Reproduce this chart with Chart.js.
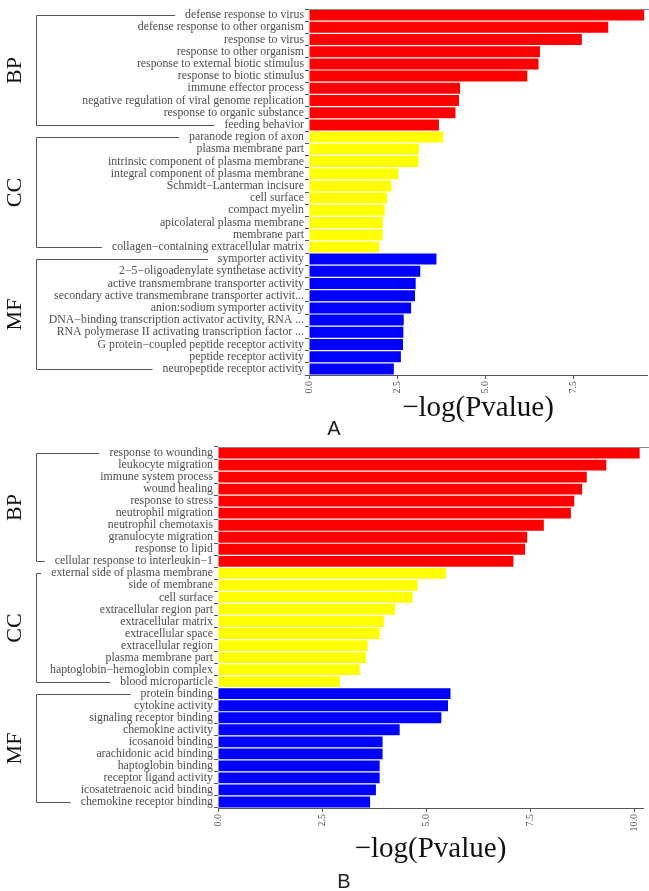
<!DOCTYPE html>
<html>
<head>
<meta charset="utf-8">
<script src="https://cdn.jsdelivr.net/npm/chart.js@4.4.1/dist/chart.umd.min.js"></script>
<style>
  html, body { margin: 0; padding: 0; background: #fff; }
  body { width: 649px; height: 891px; position: relative; overflow: hidden; }
  .panel { position: absolute; left: 0; width: 649px; }
  #panelA { top: 0; height: 440px; }
  #panelB { top: 440px; height: 451px; }
  .tag { position: absolute; font-family: "Liberation Sans", Arial, sans-serif; font-size: 20px; color: #222; transform: translate(-50%, -50%); }
</style>
</head>
<body>
<div class="panel" id="panelA"><canvas id="chartA"></canvas></div>
<div class="panel" id="panelB"><canvas id="chartB"></canvas></div>
<div class="tag" style="left:334px; top:428px">A</div>
<div class="tag" style="left:344px; top:881px">B</div>
<script>
// GO categories, 10 terms each, in plotting order (top to bottom)
const groups = ['BP', 'CC', 'MF'];
const groupCounts = [10, 10, 10];
const groupColors = ['#FF0000', '#FFFF00', '#0000FF'];

const termsA = [
  'defense response to virus', 'defense response to other organism', 'response to virus',
  'response to other organism', 'response to external biotic stimulus', 'response to biotic stimulus',
  'immune effector process', 'negative regulation of viral genome replication', 'response to organic substance',
  'feeding behavior',
  'paranode region of axon', 'plasma membrane part', 'intrinsic component of plasma membrane',
  'integral component of plasma membrane', 'Schmidt\u2212Lanterman incisure', 'cell surface',
  'compact myelin', 'apicolateral plasma membrane', 'membrane part',
  'collagen\u2212containing extracellular matrix',
  'symporter activity', '2\u22125\u2212oligoadenylate synthetase activity', 'active transmembrane transporter activity',
  'secondary active transmembrane transporter activit...', 'anion:sodium symporter activity',
  'DNA\u2212binding transcription activator activity, RNA ...', 'RNA polymerase II activating transcription factor ...',
  'G protein\u2212coupled peptide receptor activity', 'peptide receptor activity', 'neuropeptide receptor activity'
];
const valuesA = [
  9.52, 8.50, 7.75, 6.56, 6.52, 6.20, 4.29, 4.26, 4.16, 3.69,
  3.81, 3.12, 3.11, 2.54, 2.34, 2.22, 2.15, 2.10, 2.09, 1.99,
  3.62, 3.16, 3.03, 3.01, 2.90, 2.69, 2.68, 2.67, 2.61, 2.41
];

const termsB = [
  'response to wounding', 'leukocyte migration', 'immune system process', 'wound healing',
  'response to stress', 'neutrophil migration', 'neutrophil chemotaxis', 'granulocyte migration',
  'response to lipid', 'cellular response to interleukin\u22121',
  'external side of plasma membrane', 'side of membrane', 'cell surface', 'extracellular region part',
  'extracellular matrix', 'extracellular space', 'extracellular region', 'plasma membrane part',
  'haptoglobin\u2212hemoglobin complex', 'blood microparticle',
  'protein binding', 'cytokine activity', 'signaling receptor binding', 'chemokine activity',
  'icosanoid binding', 'arachidonic acid binding', 'haptoglobin binding', 'receptor ligand activity',
  'icosatetraenoic acid binding', 'chemokine receptor binding'
];
const valuesB = [
  10.12, 9.32, 8.85, 8.74, 8.55, 8.47, 7.82, 7.42, 7.37, 7.09,
  5.47, 4.79, 4.67, 4.25, 3.98, 3.88, 3.59, 3.55, 3.40, 2.93,
  5.58, 5.52, 5.36, 4.36, 3.95, 3.95, 3.88, 3.88, 3.79, 3.65
];

const xTicksStep = 2.5;
const axisTitle = '\u2212log(Pvalue)';

const serif = '"Liberation Serif", "Times New Roman", serif';
const tickFont = { family: serif, size: 11.8, lineHeight: 1 };
const greyText = '#4d4d4d';
const lineGrey = '#555';

function barColors() {
  const out = [];
  groups.forEach((g, gi) => {
    for (let i = 0; i < groupCounts[gi]; i++) out.push(groupColors[gi]);
  });
  return out;
}

// brackets + group names on the left, thin frame line on top
const groupBrackets = {
  id: 'groupBrackets',
  afterDraw(chart, args, opts) {
    const { ctx, chartArea } = chart;
    const ys = chart.scales.y;
    ctx.save();
    ctx.strokeStyle = '#888';
    ctx.lineWidth = 1;
    ctx.beginPath();
    ctx.moveTo(chartArea.left, Math.round(chartArea.top) + 0.5);
    ctx.lineTo(chart.width, Math.round(chartArea.top) + 0.5);
    ctx.stroke();

    const labelRight = ys.right - ys.options.grid.tickLength - ys.options.ticks.padding;
    const bx = opts.bracketX + 0.5;
    ctx.strokeStyle = lineGrey;
    let start = 0;
    groups.forEach((g, gi) => {
      const end = start + groupCounts[gi] - 1;
      const y0 = Math.round(ys.getPixelForValue(start)) + 0.5;
      const y1 = Math.round(ys.getPixelForValue(end)) + 0.5;
      ctx.font = `${tickFont.size}px ${serif}`;
      const w0 = ctx.measureText(opts.terms[start]).width;
      const w1 = ctx.measureText(opts.terms[end]).width;
      ctx.beginPath();
      ctx.moveTo(labelRight - w0 - opts.gap, y0);
      ctx.lineTo(bx, y0);
      ctx.lineTo(bx, y1);
      ctx.lineTo(labelRight - w1 - opts.gap, y1);
      ctx.stroke();

      ctx.save();
      ctx.translate(opts.nameX, (y0 + y1) / 2);
      ctx.rotate(-Math.PI / 2);
      ctx.fillStyle = '#111';
      ctx.font = `22px ${serif}`;
      ctx.textAlign = 'center';
      ctx.textBaseline = 'middle';
      ctx.fillText(g, 0, 0);
      ctx.restore();
      start = end + 1;
    });
    ctx.restore();
  }
};

function makeChart(id, terms, values, cfg) {
  return new Chart(document.getElementById(id), {
    type: 'bar',
    data: {
      labels: terms,
      datasets: [{
        data: values,
        backgroundColor: barColors(),
        borderWidth: 0,
        barPercentage: 0.9,
        categoryPercentage: 1
      }]
    },
    options: {
      indexAxis: 'y',
      responsive: true,
      maintainAspectRatio: false,
      animation: false,
      layout: { padding: { top: cfg.top, right: cfg.right, left: 0, bottom: 0 } },
      plugins: {
        legend: { display: false },
        tooltip: { enabled: false },
        groupBrackets: { terms: terms, bracketX: 36, nameX: 15, gap: 10 }
      },
      scales: {
        y: {
          afterFit: (s) => { s.width = cfg.yWidth; },
          border: { display: false },
          grid: { drawOnChartArea: false, drawTicks: true, tickLength: 4, color: lineGrey },
          ticks: { autoSkip: false, color: greyText, font: tickFont, padding: 1 }
        },
        x: {
          min: 0,
          max: cfg.max,
          afterFit: (s) => { s.height = cfg.xHeight; },
          border: { display: true, color: lineGrey, width: 1 },
          grid: { drawOnChartArea: false, drawTicks: true, tickLength: 4, color: lineGrey },
          ticks: {
            stepSize: xTicksStep,
            includeBounds: false,
            minRotation: 90,
            maxRotation: 90,
            padding: 2,
            color: greyText,
            font: { family: serif, size: 10 },
            callback: (v) => Number(v).toFixed(1)
          },
          title: {
            display: true,
            text: axisTitle,
            color: '#111',
            font: { family: serif, size: 29, lineHeight: 1 },
            padding: { top: 0, bottom: cfg.titlePad }
          }
        }
      }
    },
    plugins: [groupBrackets]
  });
}

makeChart('chartA', termsA, valuesA, { top: 9, right: 2, yWidth: 309, xHeight: 65, max: 9.6, titlePad: 17 });
makeChart('chartB', termsB, valuesB, { top: 7, right: 6, yWidth: 218, xHeight: 83, max: 10.2, titlePad: 27 });
</script>
</body>
</html>
